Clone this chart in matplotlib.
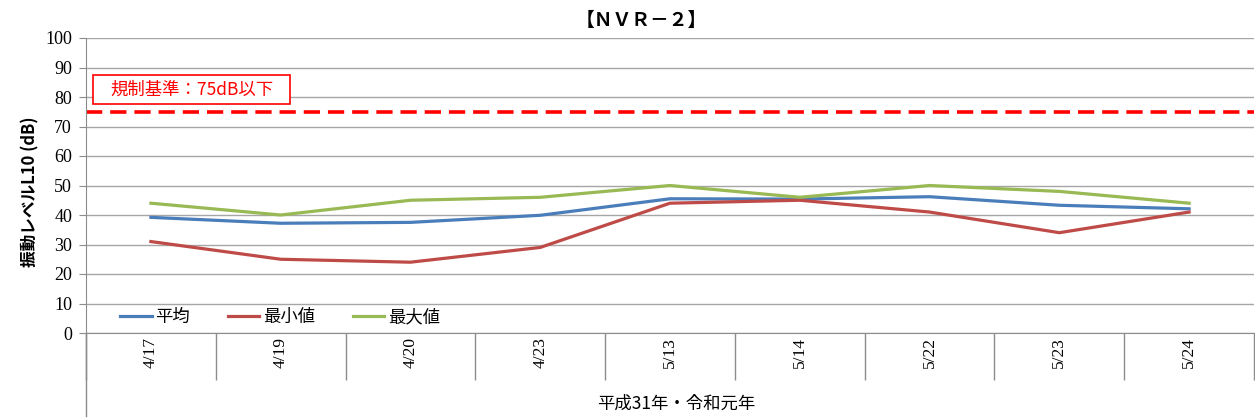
import matplotlib
matplotlib.use('agg')
import matplotlib.pyplot as plt
from matplotlib.patches import Rectangle
import numpy as np

dates = ['4/17', '4/19', '4/20', '4/23', '5/13', '5/14', '5/22', '5/23', '5/24']
avg_vals = [39.2, 37.2, 37.5, 39.9, 45.5, 45.4, 46.2, 43.3, 42.1]
min_vals = [31, 25, 24, 29, 44, 45, 41, 34, 41]
max_vals = [44, 40, 45, 46, 50, 46, 50, 48, 44]
limit_value = 75
series_names = ['平均', '最小値', '最大値']
colors = ['#4A7EBB', '#BE4B48', '#98B954']

jp = ['Noto Sans CJK JP', 'DejaVu Sans']
serif = ['Liberation Serif', 'DejaVu Serif']

fig = plt.figure(figsize=(12.55, 4.2), dpi=100)
ax = fig.add_axes([86 / 1255, 1 - 333 / 420, 1168 / 1255, 295 / 420])

x = np.arange(len(dates))
for vals, name, c in zip([avg_vals, min_vals, max_vals], series_names, colors):
    ax.plot(x, vals, color=c, lw=2.3, label=name, solid_joinstyle='round')

ax.axhline(limit_value, color='#FF0000', lw=2.6, ls=(0, (4.5, 2.2)))

ax.set_xlim(-0.5, len(dates) - 0.5)
ax.set_ylim(0, 100)
ax.set_yticks(range(0, 101, 10))
ax.yaxis.grid(True, color='#A6A6A6', lw=1.0)
ax.set_axisbelow(True)
for lab in ax.get_yticklabels():
    lab.set_family(serif)
    lab.set_fontsize(13)
ax.tick_params(axis='y', length=5, color='#8C8C8C', pad=5)

# category axis: separators as major ticks, labels on minor ticks
ax.set_xticks(np.arange(-0.5, len(dates), 1))
ax.set_xticklabels([])
ax.tick_params(axis='x', which='major', length=34, color='#8C8C8C', width=1)
ax.set_xticks(x, minor=True)
ax.set_xticklabels(dates, minor=True, rotation=90, family=serif, fontsize=12.5)
ax.tick_params(axis='x', which='minor', length=0, pad=3)

for s in ['top', 'right']:
    ax.spines[s].set_visible(False)
ax.spines['bottom'].set_color('#8C8C8C')
ax.spines['left'].set_color('#8C8C8C')
ax.plot([0, 0], [0, -0.28], transform=ax.transAxes, color='#8C8C8C', lw=1, clip_on=False)

leg = ax.legend(loc='lower left', bbox_to_anchor=(0.016, -0.03), ncol=3, frameon=False,
                prop={'family': jp, 'size': 12.5}, handlelength=1.8, columnspacing=2.2,
                handletextpad=0.2)

# limit annotation box
ax.add_patch(Rectangle((0.006, 0.776), 0.1687, 0.0983, transform=ax.transAxes,
                       fc='white', ec='#FF0000', lw=1.2, zorder=5))
ax.text(0.0903, 0.8254, '規制基準：75dB以下', transform=ax.transAxes, color='#FF0000',
        fontsize=12.5, family=jp, va='center', ha='center', zorder=6)

fig.text(641 / 1255, 1 - 20 / 420, '【ＮＶＲ－２】', ha='center', va='center',
         family=jp, fontsize=13.5, fontweight='bold')
fig.text(30 / 1255, 1 - 192 / 420, '振動レベルL10 (dB)', rotation=90, ha='center',
         va='center', family=jp, fontsize=12, fontweight='bold')
fig.text(676 / 1255, 1 - 404 / 420, '平成31年・令和元年', ha='center', va='center',
         family=jp, fontsize=12.5)

fig.savefig('out.png', dpi=100)
